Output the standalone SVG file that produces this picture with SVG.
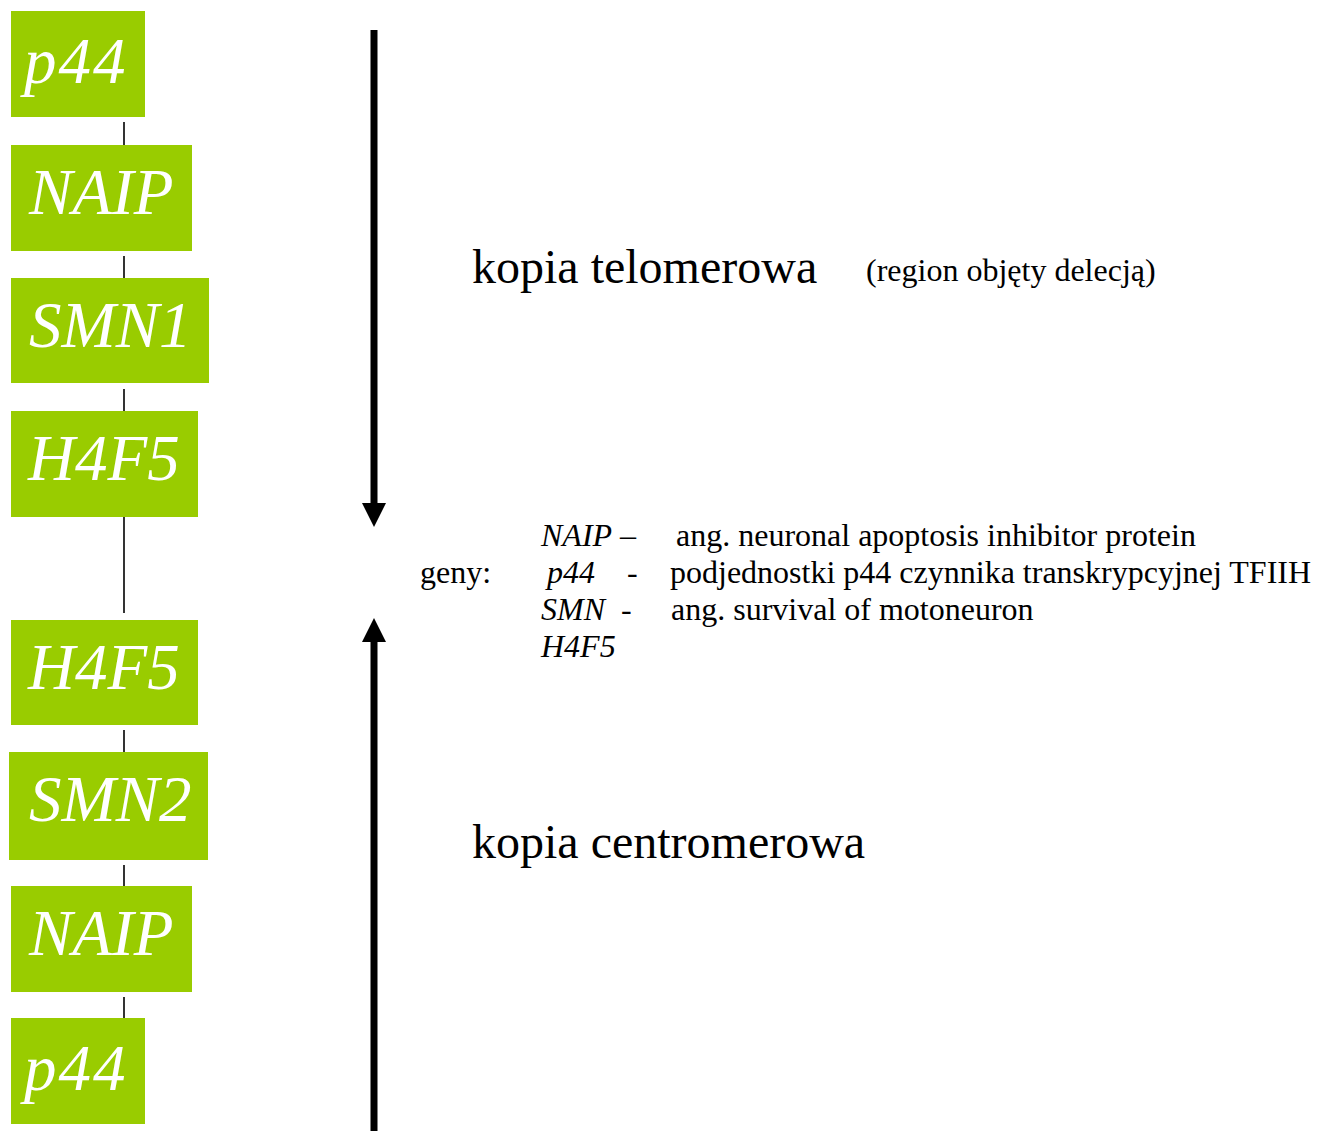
<svg xmlns="http://www.w3.org/2000/svg" width="1318" height="1131" viewBox="0 0 1318 1131">
<style>
.box{fill:#99CC00}
.lbl{font-family:"Liberation Serif","Times New Roman",serif;font-style:italic;font-size:65px;fill:#ffffff}
.conn{stroke:#000;stroke-width:1.6;fill:none}
.arr{stroke:#000;stroke-width:7;fill:none}
.head{fill:#000}
.t{font-family:"Liberation Serif","Times New Roman",serif;fill:#000}
.big{font-size:48px}
.mid{font-size:32px}
.leg{font-size:32px}
.it{font-style:italic}
</style>
<rect width="1318" height="1131" fill="#fff"/>
<g id="connectors">
<line class="conn" x1="124" y1="122" x2="124" y2="145"/>
<line class="conn" x1="124" y1="256" x2="124" y2="278"/>
<line class="conn" x1="124" y1="389" x2="124" y2="411"/>
<line class="conn" x1="124" y1="517" x2="124" y2="613"/>
<line class="conn" x1="124" y1="730" x2="124" y2="752"/>
<line class="conn" x1="124" y1="865" x2="124" y2="886"/>
<line class="conn" x1="124" y1="997" x2="124" y2="1018"/>
<line class="arr" x1="374" y1="30" x2="374" y2="506"/>
<polygon class="head" points="362,503 386,503 374,527"/>
<line class="arr" x1="374" y1="640" x2="374" y2="1131"/>
<polygon class="head" points="362,642 386,642 374,618"/>
</g>
<g id="n1"><rect class="box" x="11" y="11" width="134" height="106"/><text class="lbl" x="24" y="83" letter-spacing="2">p44</text></g>
<g id="n2"><rect class="box" x="11" y="145" width="181" height="106"/><text class="lbl" x="29" y="214">NAIP</text></g>
<g id="n3"><rect class="box" x="11" y="278" width="198" height="105"/><text class="lbl" x="29" y="347">SMN1</text></g>
<g id="n4"><rect class="box" x="11" y="411" width="187" height="106"/><text class="lbl" x="28" y="480">H4F5</text></g>
<g id="n5"><rect class="box" x="11" y="620" width="187" height="105"/><text class="lbl" x="28" y="689">H4F5</text></g>
<g id="n6"><rect class="box" x="9" y="752" width="199" height="108"/><text class="lbl" x="29" y="821">SMN2</text></g>
<g id="n7"><rect class="box" x="11" y="886" width="181" height="106"/><text class="lbl" x="29" y="955">NAIP</text></g>
<g id="n8"><rect class="box" x="11" y="1018" width="134" height="106"/><text class="lbl" x="24" y="1090" letter-spacing="2">p44</text></g>
<g id="labels">
<text class="t big" x="472" y="283">kopia telomerowa</text>
<text class="t mid" x="866" y="281">(region objęty delecją)</text>
<text class="t big" x="472" y="858">kopia centromerowa</text>
<text class="t leg" x="541" y="546"><tspan class="it">NAIP</tspan> –</text>
<text class="t leg" x="676" y="546">ang. neuronal apoptosis inhibitor protein</text>
<text class="t leg" x="420" y="583">geny:</text>
<text class="t leg it" x="547" y="583">p44</text>
<text class="t leg" x="627" y="583">-</text>
<text class="t leg" x="670" y="583">podjednostki p44 czynnika transkrypcyjnej TFIIH</text>
<text class="t leg it" x="541" y="620">SMN</text>
<text class="t leg" x="621" y="620">-</text>
<text class="t leg" x="671" y="620">ang. survival of motoneuron</text>
<text class="t leg it" x="541" y="657">H4F5</text>
</g>
</svg>
